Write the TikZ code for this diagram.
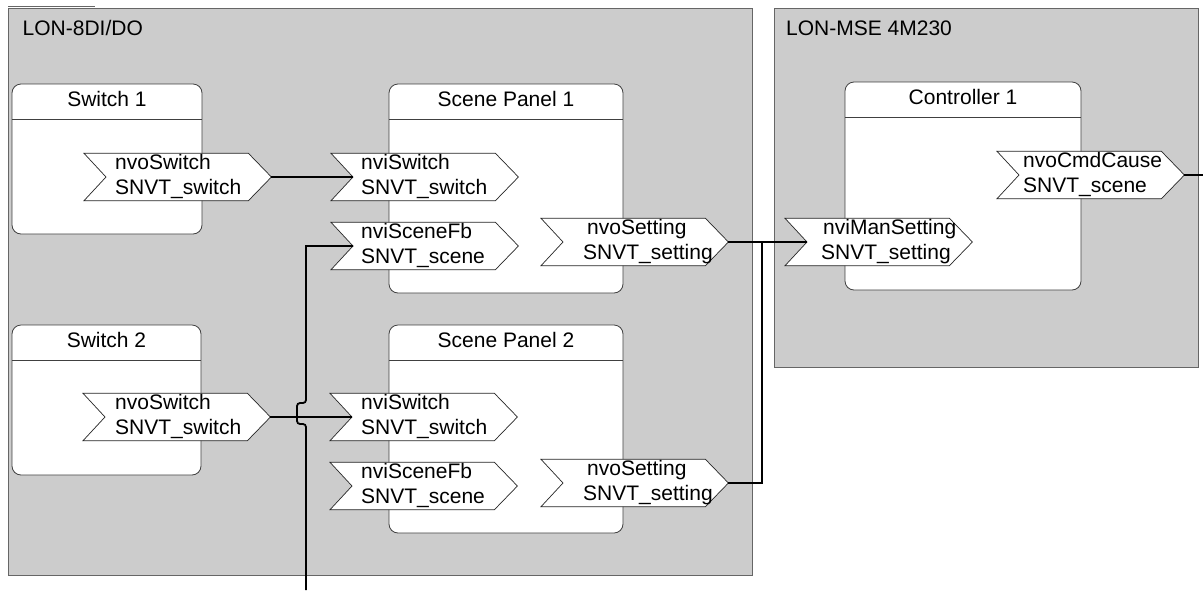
\documentclass[tikz,border=0pt]{standalone}
\usepackage{fontspec}
\setmainfont{Liberation Sans}
\usetikzlibrary{calc}

% functional block: name, x1, y1, x2, y2, title rule y, title
\newcommand\funcblock[7]{%
  \draw[fblock] (#2,#3) rectangle (#4,#5);
  \draw[blockrule] (#2,#6) -- (#4,#6);
  \node[ttl] (#1) at ({(#2+#4)/2},{#3+22}) {#7};}

% network variable: name, left x, centre y, line 1, indent 1, line 2, indent 2
\newcommand\lonport[7]{%
  \node[portframe] (#1) at (#2,#3) {};
  \draw[portedge] (#1.north west) -- ([xshift=-23pt]#1.north east) -- (#1.east)
    -- ([xshift=-23pt]#1.south east) -- (#1.south west) -- ([xshift=22pt]#1.west) -- cycle;
  \coordinate (#1-in) at ([xshift=22pt]#1.west);
  \node[lbl] (#1-a) at ([xshift=#5pt, yshift=-16pt]#1.north west) {#4};
  \node[lbl] (#1-b) at ([xshift=#7pt, yshift=-41pt]#1.north west) {#6};}

\begin{document}
\begin{tikzpicture}[x=1pt,y=-1pt,
  module/.style={draw=black!60, fill=black!20, line width=0.8pt},
  fblock/.style={draw=black!75, fill=white, line width=0.8pt, rounded corners=9pt},
  blockrule/.style={draw=black!75, line width=0.8pt},
  portframe/.style={rectangle, minimum width=187pt, minimum height=47pt, inner sep=0pt, anchor=west},
  portedge/.style={draw=black!85, fill=white, line width=0.7pt},
  wire/.style={draw=black, line width=1.8pt},
  lbl/.style={font=\fontsize{21}{25}\selectfont, inner sep=0pt, anchor=base west},
  ttl/.style={font=\fontsize{21}{25}\selectfont, inner sep=0pt, anchor=base},
]
\useasboundingbox (0,0) rectangle (1203,590);

% devices
\draw[module] (8,8) rectangle (752,575);
\draw[black!60, line width=1pt] (8,6) -- (95,6);
\node[lbl] (dev1) at (22.5,35) {LON-8DI/DO};
\draw[module] (774,8) rectangle (1198,367);
\node[lbl] (dev2) at (786,35) {LON-MSE 4M230};

% functional blocks
\funcblock{sw1}{12}{84}{202}{234}{119}{Switch 1}
\funcblock{sw2}{12}{325}{201}{475}{360}{Switch 2}
\funcblock{sp1}{389}{84}{623}{293}{119}{Scene Panel 1}
\funcblock{sp2}{389}{325}{623}{533}{360}{Scene Panel 2}
\funcblock{c1}{845}{82}{1081}{290}{117}{Controller 1}

% network variables
\lonport{sw1o}{84}{177}{nvoSwitch}{31}{SNVT\_switch}{31}
\lonport{sp1s}{331}{177}{nviSwitch}{30}{SNVT\_switch}{30}
\lonport{sp1f}{331}{246}{nviSceneFb}{30}{SNVT\_scene}{30}
\lonport{sp1o}{541}{242}{nvoSetting}{46}{SNVT\_setting}{42}
\lonport{c1i}{785}{242}{nviManSetting}{38}{SNVT\_setting}{36}
\lonport{c1o}{997}{175}{nvoCmdCause}{26}{SNVT\_scene}{26}
\lonport{sw2o}{83}{417}{nvoSwitch}{32}{SNVT\_switch}{32}
\lonport{sp2s}{330}{417}{nviSwitch}{31}{SNVT\_switch}{31}
\lonport{sp2f}{330}{486}{nviSceneFb}{31}{SNVT\_scene}{31}
\lonport{sp2o}{541}{483}{nvoSetting}{46}{SNVT\_setting}{42}

% bindings
\coordinate (tap) at (762,0);
\coordinate (fbsrc) at (306,590);
\coordinate (out) at (1203,175);

\draw[wire] (sw1o.east) -- (sp1s-in);
\draw[wire] (sw2o.east) -- (sp2s-in);
\draw[wire] (sp1o.east) -- (c1i-in);
\draw[wire] (sp2o.east) -- (sp2o.east -| tap) -- (sp1o.east -| tap);
\draw[wire] (fbsrc) [rounded corners=3pt] -- (306,424) -- (297,424) -- (297,403) -- (306,403)
  [sharp corners] -- (sp1f-in -| fbsrc) -- (sp1f-in);
\draw[wire] (c1o.east) -- (out);
\end{tikzpicture}
\end{document}
